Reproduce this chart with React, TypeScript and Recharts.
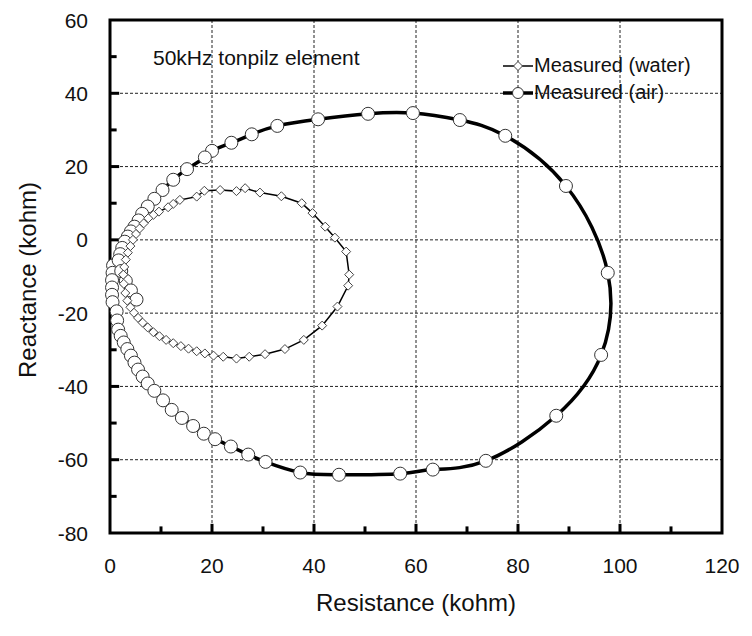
import React from 'react';
import { LineChart, Line, XAxis, YAxis, CartesianGrid, ReferenceArea, ReferenceLine } from 'recharts';

// 축 눈금
const xTicks = [0, 10, 20, 30, 40, 50, 60, 70, 80, 90, 100, 110, 120];
const yTicks = [-80, -70, -60, -50, -40, -30, -20, -10, 0, 10, 20, 30, 40, 50, 60];
const xGrid = [20, 40, 60, 80, 100];
const yGrid = [-60, -40, -20, 0, 20, 40];

// Measured (air) : 저항 / 리액턴스 (kohm)
const airResistance = [
  0.6, 0.5, 0.4, 0.4, 0.4, 0.5, 1.3, 1.4, 1.6, 2.1, 2.7, 3.4, 4.1, 4.8, 5.5, 6.4, 7.4, 8.7,
  10.4, 12.1, 14.1, 16.3, 18.4, 20.6, 23.7, 27.1, 30.5, 37.3, 44.9, 56.9, 63.3, 73.7, 87.5,
  96.3, 97.6, 89.4, 77.5, 68.6, 59.4, 50.6, 40.8, 32.8, 27.8, 23.8, 20.0, 18.6, 15.1, 12.4,
  10.3, 8.7, 7.4, 6.3, 5.6, 4.8, 4.1, 3.5, 2.9, 2.4, 2.0, 1.7, 2.2, 3.1, 4.1, 5.2,
];
const airReactance = [
  -7, -9, -11, -13, -15, -17, -19.5, -22, -24.5, -26.2, -28, -29.8, -31.6, -33.5, -35.4, -37.3,
  -39.2, -41.2, -43.8, -46.4, -48.6, -50.8, -52.9, -54.4, -56.4, -58.6, -60.6, -63.5, -64.1,
  -63.8, -62.7, -60.3, -48, -31.4, -9, 14.7, 28.4, 32.7, 34.6, 34.4, 32.9, 31.1, 28.8, 26.5,
  24.3, 22.5, 19.3, 16.4, 13.6, 11.2, 9.1, 7.1, 5.3, 3.6, 2.3, 0.9, -0.5, -2.2, -3.9, -5.6,
  -8.5, -11.2, -13.8, -16.3,
];

// Measured (water)
const waterResistance = [
  2.6, 2.7, 3.0, 3.4, 4.0, 4.7, 5.5, 6.4, 7.4, 8.5, 9.7, 11.0, 12.4, 13.9, 15.4, 17.0, 18.6,
  20.3, 22.2, 24.8, 27.3, 30.4, 34.3, 38.0, 41.6, 44.6, 46.7, 46.9, 46.3, 44.1, 42.2, 39.7,
  37.6, 33.6, 29.4, 26.5, 24.8, 21.6, 18.5, 17.0, 13.7, 12.4, 11.4, 9.6, 8.5, 7.5, 6.6, 5.8,
  5.1, 4.5, 4.0, 3.5, 3.1, 2.8, 2.6,
];
const waterReactance = [
  -9.5, -12, -14.5, -16.6, -18.4, -19.9, -21.3, -22.6, -23.9, -25.2, -26.3, -27.3, -28.2, -29,
  -29.7, -30.4, -31, -31.6, -31.9, -32.4, -31.9, -31.2, -29.8, -27.3, -23.4, -18.2, -12.5,
  -9.5, -3.2, 0.6, 3.6, 7.3, 10, 11.9, 12.9, 14.1, 13.3, 13.6, 13.4, 11.8, 10.9, 9.8, 8.9, 7.7,
  6.8, 5.9, 4.5, 3.1, 1.6, 0, -1.7, -3.5, -5.4, -7.4, -9.5,
];

const airData = airResistance.map((r, i) => ({ r, x: airReactance[i] }));
const waterData = waterResistance.map((r, i) => ({ r, x: waterReactance[i] }));

const FONT = '"Liberation Sans", Arial, sans-serif';

const XTick = ({ x, payload }: any) => {
  if (payload.value % 20 !== 0) return null;
  return (
    <text x={x} y={565} textAnchor="middle" dominantBaseline="central" fontSize={21} fontFamily={FONT} fill="#111">
      {payload.value}
    </text>
  );
};

const YTick = ({ y, payload }: any) => {
  if (payload.value % 20 !== 0) return null;
  return (
    <text x={88} y={y} textAnchor="end" dominantBaseline="central" fontSize={21} fontFamily={FONT} fill="#111">
      {payload.value}
    </text>
  );
};

const Diamond = ({ cx, cy }: any) => {
  if (cx == null || cy == null) return null;
  const s = 4.5;
  return (
    <polygon
      points={`${cx},${cy - s} ${cx + s},${cy} ${cx},${cy + s} ${cx - s},${cy}`}
      fill="#fff"
      stroke="#444"
      strokeWidth={1}
    />
  );
};

const ChartLegend = () => (
  <div style={{ position: 'absolute', left: 503, top: 52, fontFamily: FONT, fontSize: 20, color: '#111', lineHeight: '27px' }}>
    <div style={{ display: 'flex', alignItems: 'center' }}>
      <svg width={30} height={14} style={{ marginRight: 1 }}>
        <line x1={0} x2={30} y1={7} y2={7} stroke="#000" strokeWidth={1.5} />
        <polygon points="15,2.5 19.5,7 15,11.5 10.5,7" fill="#fff" stroke="#444" />
      </svg>
      <span>Measured (water)</span>
    </div>
    <div style={{ display: 'flex', alignItems: 'center' }}>
      <svg width={30} height={14} style={{ marginRight: 1 }}>
        <line x1={0} x2={30} y1={7} y2={7} stroke="#000" strokeWidth={3.5} />
        <circle cx={15} cy={7} r={5.5} fill="#fff" stroke="#333" />
      </svg>
      <span>Measured (air)</span>
    </div>
  </div>
);

export default function App() {
  return (
    <div style={{ position: 'absolute', left: 0, top: 0, width: 752, height: 636, background: '#fff' }}>
      <LineChart width={752} height={636} margin={{ top: 20, right: 30, bottom: 63, left: 70 }}>
        <CartesianGrid
          stroke="#222"
          strokeDasharray="3 2"
          horizontalValues={yGrid}
          verticalValues={xGrid}
        />
        <ReferenceArea x1={0} x2={120} y1={-80} y2={60} fill="none" stroke="#000" strokeWidth={3} fillOpacity={0} />
        {/* 안쪽 눈금 표시 */}
        {xTicks.slice(1, -1).map((v) => (
          <ReferenceLine
            key={`xt${v}`}
            segment={[{ x: v, y: -80 }, { x: v, y: v % 20 === 0 ? -77.5 : -78.2 }]}
            stroke="#000"
            strokeWidth={3}
          />
        ))}
        {yTicks.slice(1, -1).map((v) => (
          <ReferenceLine
            key={`yt${v}`}
            segment={[{ x: 0, y: v }, { x: v % 20 === 0 ? 1.8 : 1.3, y: v }]}
            stroke="#000"
            strokeWidth={3}
          />
        ))}
        <XAxis
          type="number"
          dataKey="r"
          domain={[0, 120]}
          ticks={xTicks}
          interval={0}
          height={40}
          axisLine={false}
          tickLine={false}
          tick={<XTick />}
        />
        <YAxis
          type="number"
          dataKey="x"
          domain={[-80, 60]}
          ticks={yTicks}
          interval={0}
          width={40}
          axisLine={false}
          tickLine={false}
          tick={<YTick />}
        />
        <Line
          data={airData}
          dataKey="x"
          name="Measured (air)"
          type="natural"
          stroke="#000"
          strokeWidth={3.5}
          dot={{ r: 6.5, fill: '#fff', stroke: '#333', strokeWidth: 1 }}
          isAnimationActive={false}
        />
        <Line
          data={waterData}
          dataKey="x"
          name="Measured (water)"
          type="linear"
          stroke="#000"
          strokeWidth={1.5}
          dot={<Diamond />}
          isAnimationActive={false}
        />
      </LineChart>
      <ChartLegend />
      <div style={{ position: 'absolute', left: 153, top: 46, fontFamily: FONT, fontSize: 21, color: '#111', whiteSpace: 'nowrap' }}>
        50kHz tonpilz element
      </div>
      <div style={{ position: 'absolute', left: 0, width: 832, top: 589, textAlign: 'center', fontFamily: FONT, fontSize: 24, color: '#111' }}>
        Resistance (kohm)
      </div>
      <div
        style={{
          position: 'absolute',
          left: 28,
          top: 280,
          transform: 'translate(-50%, -50%) rotate(-90deg)',
          fontFamily: FONT,
          fontSize: 24,
          color: '#111',
          whiteSpace: 'nowrap',
        }}
      >
        Reactance (kohm)
      </div>
    </div>
  );
}
